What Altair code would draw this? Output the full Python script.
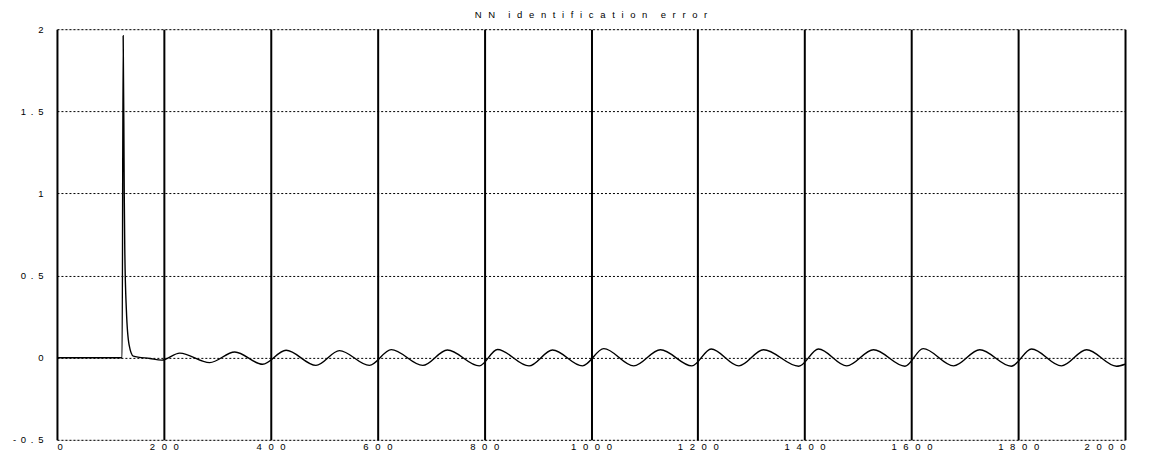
import altair as alt
import pandas as pd

# Values
t_vals = [0, 122, 124, 126, 127, 130, 135, 143, 174, 196,
          230, 286, 333, 385, 429, 485, 529, 585, 626, 685, 731, 791,
          825, 884, 928, 984, 1024, 1080, 1130, 1189, 1225, 1277, 1323,
          1389, 1426, 1479, 1529, 1588, 1622, 1679, 1728, 1787, 1825,
          1881, 1928, 1984, 2000]
err_vals = [0, 0, 1.96, 1.0, 0.66, 0.29, 0.08, 0.01, -0.005, -0.015,
            0.028, -0.03, 0.035, -0.04, 0.045, -0.047, 0.043, -0.047, 0.049, -0.047, 0.047, -0.05,
            0.05, -0.05, 0.047, -0.05, 0.055, -0.05, 0.048, -0.05, 0.053, -0.05, 0.048,
            -0.052, 0.053, -0.05, 0.048, -0.052, 0.055, -0.05, 0.048, -0.052, 0.053,
            -0.05, 0.048, -0.052, -0.04]

x_ticks = [0, 200, 400, 600, 800, 1000, 1200, 1400, 1600, 1800, 2000]
y_ticks = [-0.5, 0, 0.5, 1, 1.5, 2]
title_words = ["NN", "identification", "error"]

# letter-spaced look of the original print
gap = "\u2002\u2009"
title_text = (gap + gap).join(gap.join(list(w)) for w in title_words)

df = pd.DataFrame({"t": t_vals, "err": err_vals})

spaced_x = "join(split(toString(datum.value), ''), '\u2002\u2009')"
spaced_y = "join(split(toString(datum.value), ''), '\u2002')"

chart = alt.Chart(df).mark_line(
    color="black", strokeWidth=1.4, interpolate="monotone", clip=True
).encode(
    x=alt.X("t:Q", scale=alt.Scale(domain=[0, 2000], nice=False, zero=False),
            axis=alt.Axis(values=x_ticks, title=None, grid=True, gridColor="black",
                          gridWidth=2, gridOpacity=1, ticks=False, domain=False,
                          labelExpr=spaced_x, labelFontSize=9.5, labelPadding=2,
                          labelColor="black", labelFont="Liberation Sans")),
    y=alt.Y("err:Q", scale=alt.Scale(domain=[-0.5, 2], nice=False, zero=False),
            axis=alt.Axis(values=y_ticks, title=None, grid=True, gridColor="black",
                          gridDash=[2, 2], gridWidth=1, gridOpacity=1, ticks=False,
                          domain=False, labelExpr=spaced_y, labelFontSize=9.5,
                          labelPadding=14, labelColor="black",
                          labelFont="Liberation Sans")),
).properties(
    width=1069,
    height=411,
    title=alt.TitleParams(title_text, fontSize=9.5, fontWeight="normal",
                          font="Liberation Sans", color="black", offset=5,
                          anchor="middle"),
    autosize=alt.AutoSizeParams(type="none"),
    padding={"left": 49, "top": 21, "right": 20, "bottom": 20},
).configure_view(
    stroke="black", strokeWidth=1.5
).configure(background="white")

chart.save("out.html", embed_options={"renderer": "svg", "actions": False})
